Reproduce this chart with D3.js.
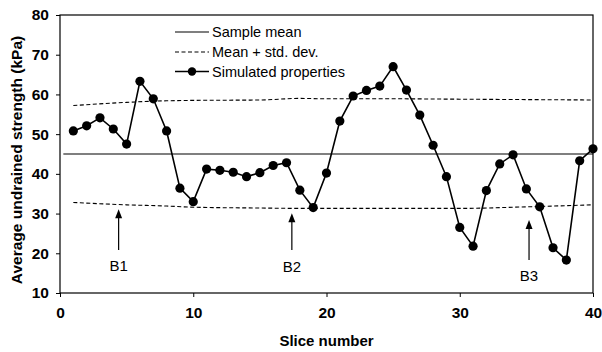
<!DOCTYPE html>
<html>
<head>
<meta charset="utf-8">
<script src="https://cdn.jsdelivr.net/npm/d3@7"></script>
<style>
  body { margin: 0; background: #fff; }
  svg { display: block; font-family: 'Liberation Sans', Arial, sans-serif; }
</style>
</head>
<body>
<svg id="chart" width="602" height="352"></svg>
<script>
// simulated properties per slice
const slices = d3.range(1, 41);
const strength = [
  50.8, 52.1, 54.1, 51.3, 47.5, 63.3, 58.9, 50.8, 36.4, 33.0,
  41.2, 40.9, 40.4, 39.3, 40.3, 42.1, 42.8, 35.9, 31.5, 40.2,
  53.3, 59.6, 61.0, 62.1, 67.0, 61.1, 54.8, 47.2, 39.3, 26.5,
  21.8, 35.8, 42.5, 44.8, 36.2, 31.7, 21.4, 18.3, 43.3, 46.3
];

// sample mean and mean +/- std. dev. (read at a few slices)
const meanX = [0.25, 40];
const meanY = [45, 45];
const bandX = [1, 5, 8, 10, 15, 18, 20, 25, 30, 35, 40];
const upperY = [57.2, 58.0, 58.4, 58.5, 58.6, 59.0, 58.9, 58.9, 58.8, 58.7, 58.6];
const lowerY = [32.8, 32.2, 31.9, 31.6, 31.4, 31.3, 31.3, 31.3, 31.3, 31.7, 32.2];

// annotations
const arrowLabels = ['B1', 'B2', 'B3'];
const arrowX = [4.4, 17.4, 35.2];
const arrowTip = [31.1, 30.1, 28.4];
const arrowTail = [20.8, 20.8, 18.3];
const arrowText = [17.0, 16.6, 14.5];

const xTicks = [0, 10, 20, 30, 40];
const yTicks = [10, 20, 30, 40, 50, 60, 70, 80];
const legendLabels = ['Sample mean', 'Mean + std. dev.', 'Simulated properties'];

const svg = d3.select('#chart');
const x = d3.scaleLinear().domain([0, 40]).range([60, 593]);
const y = d3.scaleLinear().domain([10, 80]).range([293, 15]);

// frame
svg.append('rect')
  .attr('x', x(0)).attr('y', y(80))
  .attr('width', x(40) - x(0)).attr('height', y(10) - y(80))
  .attr('fill', 'none').attr('stroke', '#000').attr('stroke-width', 1.2);

// axes
const xAxis = svg.append('g')
  .attr('transform', `translate(0,${y(10)})`)
  .call(d3.axisBottom(x).tickValues(xTicks).tickSize(4).tickPadding(10));
const yAxis = svg.append('g')
  .attr('transform', `translate(${x(0)},0)`)
  .call(d3.axisLeft(y).tickValues(yTicks).tickSize(4).tickPadding(7));
[xAxis, yAxis].forEach(g => {
  g.select('.domain').remove();
  g.selectAll('line').attr('stroke', '#000');
  g.selectAll('text')
    .attr('fill', '#000')
    .style('font-size', '15.5px')
    .style('font-weight', 'bold')
    .style('font-family', "'Liberation Sans', Arial, sans-serif");
});

// axis titles
svg.append('text')
  .attr('x', (x(0) + x(40)) / 2).attr('y', 346)
  .attr('text-anchor', 'middle')
  .style('font-size', '15px').style('font-weight', 'bold')
  .text('Slice number');
svg.append('text')
  .attr('transform', `translate(22,${(y(10) + y(80)) / 2 + 6}) rotate(-90)`)
  .attr('text-anchor', 'middle')
  .style('font-size', '15.5px').style('font-weight', 'bold')
  .text('Average undrained strength (kPa)');

const line = d3.line().x(d => x(d[0])).y(d => y(d[1]));
const curve = d3.line().x(d => x(d[0])).y(d => y(d[1])).curve(d3.curveMonotoneX);

// sample mean
svg.append('path')
  .attr('d', line(d3.zip(meanX, meanY)))
  .attr('fill', 'none').attr('stroke', '#000').attr('stroke-width', 1.1);

// mean +/- std. dev.
[upperY, lowerY].forEach(vals => {
  svg.append('path')
    .attr('d', curve(d3.zip(bandX, vals)))
    .attr('fill', 'none').attr('stroke', '#000').attr('stroke-width', 1.1)
    .attr('stroke-dasharray', '4,2.5');
});

// simulated properties
const pts = d3.zip(slices, strength);
svg.append('path')
  .attr('d', line(pts))
  .attr('fill', 'none').attr('stroke', '#000').attr('stroke-width', 1.6);
svg.append('g')
  .selectAll('circle')
  .data(pts)
  .join('circle')
  .attr('cx', d => x(d[0]))
  .attr('cy', d => y(d[1]))
  .attr('r', 4.6)
  .attr('fill', '#000');

// arrows
const arrows = svg.append('g');
arrowLabels.forEach((lab, i) => {
  const ax = x(arrowX[i]);
  const tip = y(arrowTip[i]);
  arrows.append('line')
    .attr('x1', ax).attr('x2', ax)
    .attr('y1', tip + 6).attr('y2', y(arrowTail[i]))
    .attr('stroke', '#000').attr('stroke-width', 1.2);
  arrows.append('path')
    .attr('d', `M${ax},${tip} L${ax - 3.5},${tip + 9} L${ax + 3.5},${tip + 9} Z`)
    .attr('fill', '#000');
  arrows.append('text')
    .attr('x', ax).attr('y', y(arrowText[i]) + 5.5)
    .attr('text-anchor', 'middle')
    .style('font-size', '15px')
    .style('font-weight', 500)
    .text(lab);
});

// legend
const legend = svg.append('g');
const legY = [32, 52, 71.5];
legendLabels.forEach((lab, i) => {
  const ly = legY[i];
  const seg = legend.append('line')
    .attr('x1', 175).attr('x2', 209)
    .attr('y1', ly).attr('y2', ly)
    .attr('stroke', '#000')
    .attr('stroke-width', i === 2 ? 1.6 : 1.1);
  if (i === 1) seg.attr('stroke-dasharray', '4,2.5');
  if (i === 2) {
    legend.append('circle').attr('cx', 192).attr('cy', ly).attr('r', 4.2).attr('fill', '#000');
  }
  legend.append('text')
    .attr('x', 212).attr('y', ly + 5)
    .style('font-size', '14.5px')
    .text(lab);
});
</script>
</body>
</html>
